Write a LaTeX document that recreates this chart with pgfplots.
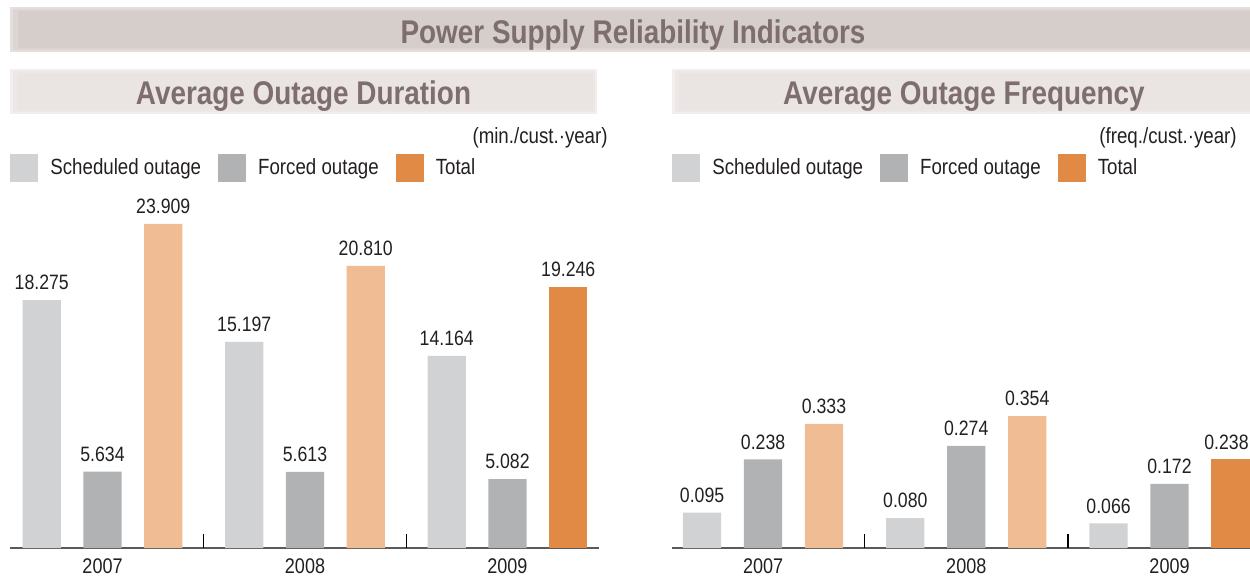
\documentclass[border=0pt]{standalone}
\usepackage{fontspec}
\setmainfont{Liberation Sans}[FakeStretch=0.85]
\usepackage{pgfplots}
\pgfplotsset{compat=1.18}
\definecolor{sched}{HTML}{D1D2D4}
\definecolor{forced}{HTML}{B1B2B4}
\definecolor{totlight}{HTML}{F0BC94}
\definecolor{totdark}{HTML}{E08A45}
\definecolor{titlebg}{HTML}{D6CECB}
\definecolor{subbg}{HTML}{EAE5E3}
\definecolor{titletext}{HTML}{7E6E6F}
\definecolor{axisgray}{HTML}{5A5A5A}
\definecolor{txt}{HTML}{231F20}
\pgfplotsset{
  mybars/.style={
    ybar, scale only axis, height=166.1pt, ymin=0,
    axis y line=none, axis x line=bottom,
    x axis line style={-, draw=axisgray, line width=0.9pt},
    xtick={0,1,2}, xticklabels={2007,2008,2009},
    xtick align=inside, major tick length=0pt,
    extra x ticks={0.5,1.5}, extra x tick labels={},
    extra x tick style={major tick length=7pt, tick style={draw=black, line width=0.6pt}},
    xticklabel style={font=\fontsize{10.6}{12}\selectfont, text=txt, yshift=-1.8pt},
    /pgf/number format/.cd, fixed, precision=3, zerofill, assume math mode=true, /pgfplots/.cd,
    nodes near coords,
    every node near coord/.append style={font=\fontsize{10.4}{12}\selectfont, text=txt, yshift=1.5pt},
    legend columns=-1,
    legend style={at={(0,1)}, anchor=west, yshift=24pt, draw=none, fill=none, inner sep=0pt,
      font=\fontsize{11}{13}\selectfont, text=txt,
      nodes={inner sep=0pt},
      /tikz/every odd column/.append style={column sep=6pt},
      /tikz/every even column/.append style={column sep=8.5pt}},
  },
  sq/.style={legend image code/.code={\fill[#1] (0pt,-7pt) rectangle (14pt,7pt);}},
}
\begin{document}
\begin{tikzpicture}[x=0.5pt,y=0.5pt]
\useasboundingbox (0,0) rectangle (1250,575);
% title bar with soft edges
\fill[titlebg!65!white] (10,523) rectangle (1250,568);
\fill[titlebg!85!white] (13,525) rectangle (1250,566);
\fill[titlebg] (18,527) rectangle (1250,564);
% subtitle bars
\fill[subbg!65!white] (10,461) rectangle (597,506);
\fill[subbg!87!white] (13,463) rectangle (595,504);
\fill[subbg] (17,465) rectangle (593,502);
\fill[subbg!65!white] (672,461) rectangle (1250,506);
\fill[subbg!87!white] (675,463) rectangle (1250,504);
\fill[subbg] (679,465) rectangle (1250,502);
\node[font=\bfseries\fontsize{16.4}{19}\selectfont, text=titletext] at (633,539.5) {Power Supply Reliability Indicators};
\node[font=\bfseries\fontsize{16.4}{19}\selectfont, text=titletext] at (303.5,478.5) {Average Outage Duration};
\node[font=\bfseries\fontsize{16.4}{19}\selectfont, text=titletext] at (964,478.5) {Average Outage Frequency};
\node[anchor=east, inner sep=0pt, font=\fontsize{11}{13}\selectfont, text=txt] at (608,437) {(min./cust.·year)};
\node[anchor=east, inner sep=0pt, font=\fontsize{11}{13}\selectfont, text=txt] at (1237,437) {(freq./cust.·year)};

\begin{axis}[mybars, at={(5pt,13.5pt)}, anchor=south west,
  width=294.5pt, xmin=-0.457, xmax=2.452, ymax=24.5, bar width=0.189]
\addplot[fill=sched, draw=none, bar shift=-0.3, sq=sched] coordinates {(0,18.275) (1,15.197) (2,14.164)};
\addlegendentry{Scheduled outage}
\addplot[fill=forced, draw=none, bar shift=0, sq=forced] coordinates {(0,5.634) (1,5.613) (2,5.082)};
\addlegendentry{Forced outage}
\addplot[fill=totdark, draw=none, bar shift=0.3, sq=totdark] coordinates {(2,19.246)};
\addlegendentry{Total}
\addplot[fill=totlight, draw=none, bar shift=0.3, forget plot] coordinates {(0,23.909) (1,20.810)};
\end{axis}

\begin{axis}[mybars, at={(336pt,13.5pt)}, anchor=south west,
  width=289pt, xmin=-0.448, xmax=2.396, ymax=0.892, bar width=0.188]
\addplot[fill=sched, draw=none, bar shift=-0.3, sq=sched] coordinates {(0,0.095) (1,0.080) (2,0.066)};
\addlegendentry{Scheduled outage}
\addplot[fill=forced, draw=none, bar shift=0, sq=forced] coordinates {(0,0.238) (1,0.274) (2,0.172)};
\addlegendentry{Forced outage}
\addplot[fill=totdark, draw=none, bar shift=0.3, sq=totdark,
  every node near coord/.append style={xshift=-2pt}] coordinates {(2,0.238)};
\addlegendentry{Total}
\addplot[fill=totlight, draw=none, bar shift=0.3, forget plot] coordinates {(0,0.333) (1,0.354)};
\end{axis}
\end{tikzpicture}
\end{document}
